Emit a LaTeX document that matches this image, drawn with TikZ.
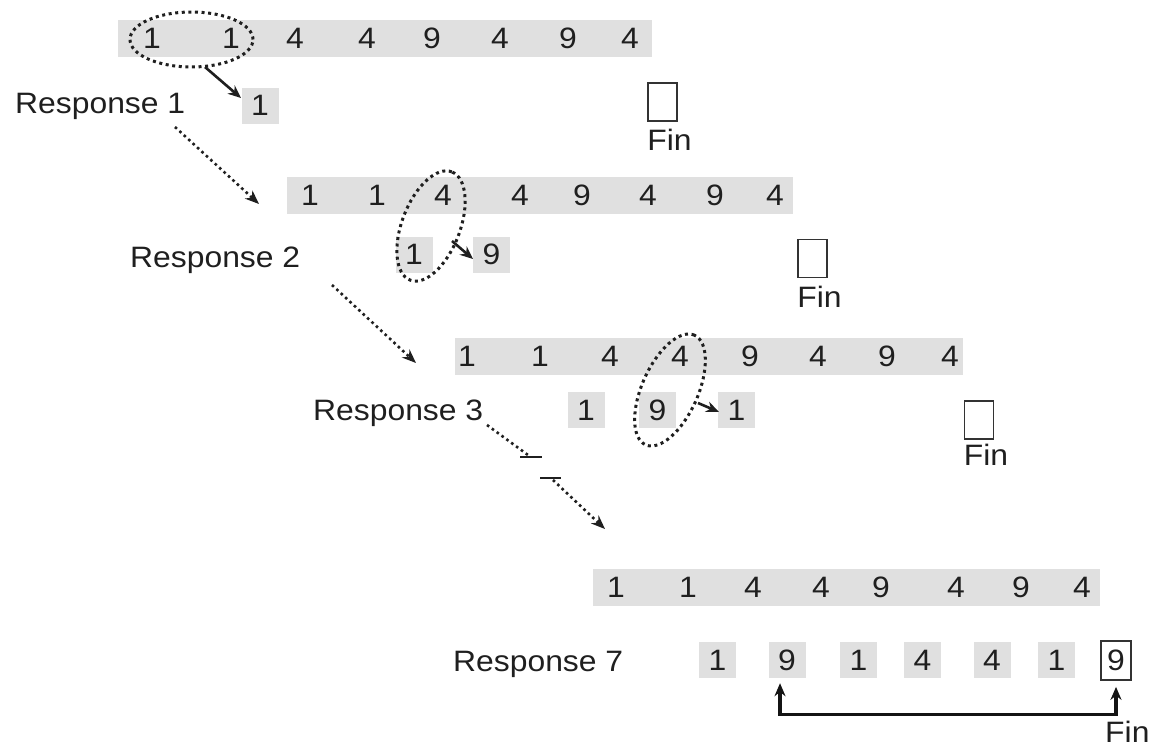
\documentclass[tikz,border=0pt]{standalone}
\usepackage{fontspec}
\setmainfont{Liberation Sans}[FakeStretch=1.08]
\usetikzlibrary{arrows.meta}
\begin{document}
\begin{tikzpicture}[x=1pt,y=-1pt,
  every node/.style={font=\fontsize{29.5}{34}\selectfont, text=black!88},
  bar/.style={fill=black!12, inner sep=0pt, minimum height=37pt},
  dig/.style={inner sep=0pt},
  sbox/.style={fill=black!12, inner sep=0pt, minimum width=37pt, minimum height=36pt},
  finbox/.style={draw=black!80, line width=1.7pt, inner sep=0pt, minimum width=29pt, minimum height=38pt},
  lbl/.style={anchor=base west, inner sep=0pt},
  sel/.style={draw=black!88, line width=3pt, dash pattern=on 3pt off 3.6pt},
  dotarr/.style={draw=black!88, line width=2.6pt, dash pattern=on 2.6pt off 3.4pt, -{Stealth[length=14pt,width=11pt]}},
  solarr/.style={draw=black!88, line width=2.6pt, -{Stealth[length=13pt,width=11pt]}},
  brk/.style={draw=black!88, line width=2.2pt},
  bigarr/.style={draw=black!92, line width=3.4pt, {Stealth[length=13pt,width=11pt]}-{Stealth[length=13pt,width=11pt]}},
]
\useasboundingbox (0,0) rectangle (1162,747);

% bars
\node[bar, minimum width=534pt] (bar1) at (385,38.5) {};
\node[bar, minimum width=506pt] (bar2) at (540,195) {};
\node[bar, minimum width=508pt] (bar3) at (709,356.5) {};
\node[bar, minimum width=507pt] (bar4) at (846.5,587.5) {};

% digits in bars
\foreach \x/\d [count=\i] in {152/1,231/1,295/4,367/4,432/9,500/4,568/9,630/4}
  \node[dig] (a\i) at (\x,38.5) {\d};
\foreach \x/\d [count=\i] in {310/1,377/1,443/4,520/4,582/9,648/4,715/9,775/4}
  \node[dig] (b\i) at (\x,195) {\d};
\foreach \x/\d [count=\i] in {467/1,540/1,610/4,680/4,750/9,818/4,887/9,950/4}
  \node[dig] (c\i) at (\x,356.5) {\d};
\foreach \x/\d [count=\i] in {616/1,688/1,753/4,821/4,881/9,956/4,1021/9,1082/4}
  \node[dig] (d\i) at (\x,587.5) {\d};

% responses
\node[lbl] (r1) at (15,113) {Response 1};
\node[lbl] (r2) at (130,267) {Response 2};
\node[lbl] (r3) at (313,420) {Response 3};
\node[lbl] (r7) at (453,671) {Response 7};

% small boxes
\node[sbox] (p1a) at (260,105.5) {1};
\node[sbox] (p2a) at (414,254.5) {1};
\node[sbox] (p2b) at (491.5,254.5) {9};
\node[sbox] (p3a) at (586,410) {1};
\node[sbox] (p3b) at (657.5,410) {9};
\node[sbox] (p3c) at (736.5,410) {1};
\foreach \x/\d [count=\i] in {717.5/1,787/9,858.5/1,922.5/4,992/4,1056.5/1}
  \node[sbox] (q\i) at (\x,660) {\d};
\node[finbox, minimum height=39pt, minimum width=30pt] (q7) at (1116,660.5) {9};

% Fin boxes
\node[finbox] (f1) at (662.5,102) {};
\node[finbox] (f2) at (812.5,258.5) {};
\node[finbox] (f3) at (979,420) {};
\node[lbl] (fin1) at ([yshift=-29pt]f1.south west) {Fin};
\node[lbl] (fin2) at ([yshift=-29pt]f2.south west) {Fin};
\node[lbl] (fin3) at ([yshift=-26pt]f3.south west) {Fin};
\node[lbl] (fin4) at (1105,742) {Fin};

% selection ellipses
\draw[sel] (191.5,39.5) ellipse [x radius=61.5pt, y radius=27.5pt];
\draw[sel, rotate around={69:(431,226)}] (431,226) ellipse [x radius=58pt, y radius=29pt];
\draw[sel, rotate around={66:(670,390)}] (670,390) ellipse [x radius=60pt, y radius=28pt];

% small solid arrows
\coordinate (s1) at (205,67);
\coordinate (t1) at (241,98);
\draw[solarr] (s1) -- (t1);
\coordinate (s2) at (452,241);
\coordinate (t2) at (473,259);
\draw[solarr] (s2) -- (t2);
\coordinate (s3) at (698,403);
\coordinate (t3) at (719,412);
\draw[solarr] (s3) -- (t3);

% dotted transition arrows
\coordinate (u1) at (175,127);
\coordinate (v1) at (259,204);
\draw[dotarr] (u1) -- (v1);
\coordinate (u2) at (332,285);
\coordinate (v2) at (416,363);
\draw[dotarr] (u2) -- (v2);
\coordinate (u3) at (487,425);
\coordinate (w3) at (528,455);
\draw[draw=black!88, line width=2.6pt, dash pattern=on 2.6pt off 3.4pt] (u3) -- (w3);
\coordinate (k1) at (520,457);
\coordinate (k2) at (542,457);
\coordinate (k3) at (540,478);
\coordinate (k4) at (561,478);
\draw[brk] (k1) -- (k2);
\draw[brk] (k3) -- (k4);
\coordinate (u4) at (553,480);
\coordinate (v4) at (605,529);
\draw[dotarr] (u4) -- (v4);

% bottom double arrow
\coordinate (bl) at ([xshift=-7pt,yshift=-5pt]q2.south);
\coordinate (br) at ([yshift=-6pt]q7.south);
\draw[bigarr] (bl) -- ++(0,31) -| (br);
\end{tikzpicture}
\end{document}
